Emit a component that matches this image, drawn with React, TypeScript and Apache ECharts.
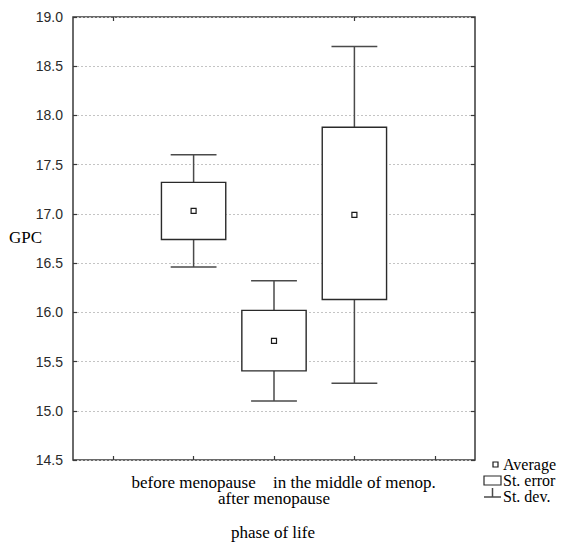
import React, { useEffect, useRef } from "react";
import * as echarts from "echarts";

const categories = ["", "before menopause", "after menopause", "in the middle of menop.", ""];
const groups = ["before menopause", "after menopause", "in the middle of menop."];
const means = [17.03, 15.71, 16.99];
const seLow = [16.74, 15.405, 16.13];
const seHigh = [17.32, 16.02, 17.88];
const sdLow = [16.46, 15.1, 15.28];
const sdHigh = [17.6, 16.32, 18.7];
const yTicks = [14.5, 15.0, 15.5, 16.0, 16.5, 17.0, 17.5, 18.0, 18.5, 19.0];

const serif = "'Liberation Serif', 'Times New Roman', serif";
const sans = "'Liberation Sans', Arial, sans-serif";
const lineColor = "#3a3a3a";

export default function App() {
  const ref = useRef<HTMLDivElement>(null);
  useEffect(() => {
    if (!ref.current) return;
    const chart = echarts.init(ref.current, null, { renderer: "svg" });
    const data = groups.map((g, i) => [g, sdLow[i], seLow[i], means[i], seHigh[i], sdHigh[i]]);
    const option: any = {
      animation: false,
      backgroundColor: "#ffffff",
      grid: { left: 73, right: 98, top: 17, bottom: 89, show: true, borderColor: lineColor, borderWidth: 1.5, backgroundColor: "transparent" },
      xAxis: [
        {
          type: "category",
          data: categories,
          position: "bottom",
          axisLine: { show: false },
          axisTick: { show: true, inside: true, alignWithLabel: true, length: 4, lineStyle: { color: lineColor, width: 1.2 } },
          axisLabel: {
            interval: 0,
            margin: 14,
            color: "#000",
            fontFamily: serif,
            fontSize: 17,
            lineHeight: 16,
            formatter: (v: string, i: number) => (i === 2 ? "\n" + v : v),
          },
          splitLine: { show: false },
        },
        {
          type: "category",
          data: categories,
          position: "top",
          axisLine: { show: false },
          axisTick: { show: true, inside: true, alignWithLabel: true, length: 4, lineStyle: { color: lineColor, width: 1.2 } },
          axisLabel: { show: false },
        },
      ],
      yAxis: [
        {
          type: "value",
          min: 14.5,
          max: 19.0,
          interval: 0.5,
          axisLine: { show: false },
          axisTick: { show: true, inside: true, length: 4, lineStyle: { color: lineColor, width: 1.2 } },
          axisLabel: {
            margin: 10,
            color: "#2a2a2a",
            fontFamily: sans,
            fontSize: 14,
            formatter: (v: number) => (yTicks.includes(v) ? v.toFixed(1) : ""),
          },
          splitLine: { show: true, lineStyle: { color: "#c4c4c4", type: [2, 2], width: 1 } },
        },
        {
          type: "value",
          min: 14.5,
          max: 19.0,
          interval: 0.5,
          position: "right",
          axisLine: { show: false },
          axisTick: { show: true, inside: true, length: 4, lineStyle: { color: lineColor, width: 1.2 } },
          axisLabel: { show: false },
          splitLine: { show: false },
        },
      ],
      series: [
        {
          type: "custom",
          xAxisIndex: 0,
          yAxisIndex: 0,
          data,
          encode: { x: 0, y: [1, 2, 3, 4, 5] },
          renderItem: (params: any, api: any) => {
            const x = api.value(0);
            const wl = api.coord([x, api.value(1)]);
            const bl = api.coord([x, api.value(2)]);
            const m = api.coord([x, api.value(3)]);
            const bh = api.coord([x, api.value(4)]);
            const wh = api.coord([x, api.value(5)]);
            const band = api.size([1, 0])[0];
            const bw = band * 0.8;
            const cw = band * 0.57;
            const cx = m[0];
            const ls = { stroke: "#4a4a4a", lineWidth: 1.5, fill: "none" };
            return {
              type: "group",
              children: [
                { type: "line", shape: { x1: cx, y1: wh[1], x2: cx, y2: bh[1] }, style: ls },
                { type: "line", shape: { x1: cx, y1: bl[1], x2: cx, y2: wl[1] }, style: ls },
                { type: "line", shape: { x1: cx - cw / 2, y1: wh[1], x2: cx + cw / 2, y2: wh[1] }, style: ls },
                { type: "line", shape: { x1: cx - cw / 2, y1: wl[1], x2: cx + cw / 2, y2: wl[1] }, style: ls },
                {
                  type: "rect",
                  shape: { x: cx - bw / 2, y: bh[1], width: bw, height: bl[1] - bh[1] },
                  style: { stroke: "#2a2a2a", lineWidth: 1.4, fill: "#ffffff" },
                },
                {
                  type: "rect",
                  shape: { x: cx - 2.5, y: m[1] - 2.5, width: 5, height: 5 },
                  style: { stroke: "#1a1a1a", lineWidth: 1.2, fill: "#ffffff" },
                },
              ],
            };
          },
          z: 5,
        },
      ],
      graphic: [
        { type: "text", left: 9, top: 229, style: { text: "GPC", font: `17px ${serif}`, fill: "#000" } },
        { type: "text", x: 273, y: 532, style: { text: "phase of life", font: `17px ${serif}`, fill: "#000", align: "center", verticalAlign: "middle" } },
        { type: "rect", shape: { x: 493, y: 462, width: 5, height: 5 }, style: { stroke: "#1a1a1a", lineWidth: 1.2, fill: "#fff" } },
        { type: "text", x: 503, y: 464, style: { text: "Average", font: `16px ${serif}`, lineHeight: 14, fill: "#000", verticalAlign: "middle" } },
        { type: "rect", shape: { x: 484, y: 476, width: 17, height: 9 }, style: { stroke: "#2a2a2a", lineWidth: 1.2, fill: "#fff" } },
        { type: "text", x: 503, y: 480, style: { text: "St. error", font: `16px ${serif}`, lineHeight: 14, fill: "#000", verticalAlign: "middle" } },
        { type: "line", shape: { x1: 484, y1: 497, x2: 501, y2: 497 }, style: { stroke: "#4a4a4a", lineWidth: 1.5 } },
        { type: "line", shape: { x1: 492.5, y1: 488, x2: 492.5, y2: 497 }, style: { stroke: "#4a4a4a", lineWidth: 1.5 } },
        { type: "text", x: 503, y: 496, style: { text: "St. dev.", font: `16px ${serif}`, lineHeight: 14, fill: "#000", verticalAlign: "middle" } },
      ],
    };
    chart.setOption(option);
    return () => chart.dispose();
  }, []);
  return <div ref={ref} style={{ width: 573, height: 549, position: "absolute", left: 0, top: 0 }} />;
}
